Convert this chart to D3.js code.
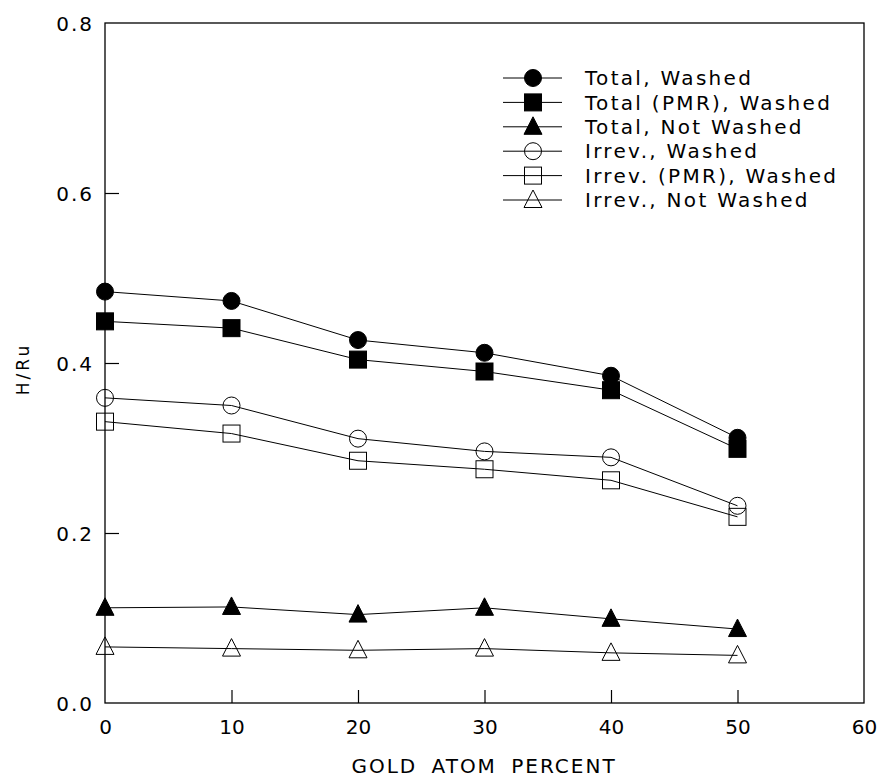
<!DOCTYPE html>
<html>
<head>
<meta charset="utf-8">
<script src="https://cdn.jsdelivr.net/npm/d3@7"></script>
<style>
  body { margin: 0; background: #fff; }
  text { font-family: "DejaVu Sans", sans-serif; fill: #000; }
</style>
</head>
<body>
<script>
// gold atom percent
const gold = [0, 10, 20, 30, 40, 50];

const totalWashed      = [0.484, 0.473, 0.427, 0.412, 0.385, 0.312];
const totalPmrWashed   = [0.449, 0.441, 0.404, 0.390, 0.368, 0.299];
const totalNotWashed   = [0.112, 0.113, 0.104, 0.112, 0.099, 0.087];
const irrevWashed      = [0.359, 0.350, 0.311, 0.296, 0.289, 0.232];
const irrevPmrWashed   = [0.331, 0.317, 0.285, 0.275, 0.262, 0.219];
const irrevNotWashed   = [0.066, 0.064, 0.062, 0.064, 0.059, 0.056];

const seriesNames = ["Total, Washed", "Total (PMR), Washed", "Total, Not Washed",
                     "Irrev., Washed", "Irrev. (PMR), Washed", "Irrev., Not Washed"];
const xTicks = [0, 10, 20, 30, 40, 50, 60];
const yTicks = [0.0, 0.2, 0.4, 0.6, 0.8];

const series = [
  {name: seriesNames[0], values: totalWashed,    shape: "circle",   filled: true},
  {name: seriesNames[1], values: totalPmrWashed, shape: "square",   filled: true},
  {name: seriesNames[2], values: totalNotWashed, shape: "triangle", filled: true},
  {name: seriesNames[3], values: irrevWashed,    shape: "circle",   filled: false},
  {name: seriesNames[4], values: irrevPmrWashed, shape: "square",   filled: false},
  {name: seriesNames[5], values: irrevNotWashed, shape: "triangle", filled: false}
];

const width = 881, height = 779;
const mLeft = 105, mRight = 864, mTop = 23, mBottom = 703;

const x = d3.scaleLinear().domain([0, 60]).range([mLeft, mRight]);
const y = d3.scaleLinear().domain([0, 0.8]).range([mBottom, mTop]);

const svg = d3.select("body").append("svg")
    .attr("width", width)
    .attr("height", height);

// marker drawing, open ones are hollow so the line shows through
function drawMarker(g, shape, filled, cx, cy) {
  const fill = filled ? "#000" : "none";
  if (shape == "circle") {
    g.append("circle").attr("cx", cx).attr("cy", cy).attr("r", 8.5)
      .attr("fill", fill).attr("stroke", "#000").attr("stroke-width", 1);
  } else if (shape == "square") {
    g.append("rect").attr("x", cx - 8.5).attr("y", cy - 8.5).attr("width", 17).attr("height", 17)
      .attr("fill", fill).attr("stroke", "#000").attr("stroke-width", 1);
  } else {
    g.append("path")
      .attr("d", `M${cx},${cy - 10}L${cx + 9},${cy + 7.5}L${cx - 9},${cy + 7.5}Z`)
      .attr("fill", fill).attr("stroke", "#000").attr("stroke-width", 1);
  }
}

// frame
svg.append("rect")
    .attr("x", mLeft).attr("y", mTop)
    .attr("width", mRight - mLeft).attr("height", mBottom - mTop)
    .attr("fill", "none").attr("stroke", "#000").attr("stroke-width", 1.3);

// axes with inward ticks
const ax = svg.append("g")
    .attr("transform", `translate(0,${mBottom})`)
    .call(d3.axisBottom(x).tickValues(xTicks).tickFormat(d3.format("d")).tickSize(-13).tickPadding(17));
const ay = svg.append("g")
    .attr("transform", `translate(${mLeft},0)`)
    .call(d3.axisLeft(y).tickValues(yTicks).tickFormat(d3.format(".1f")).tickSize(-14).tickPadding(11));

[ax, ay].forEach(a => {
  a.select(".domain").remove();
  a.selectAll(".tick line").attr("stroke", "#000").attr("stroke-width", 1.2);
  a.selectAll("text").attr("font-size", 20).attr("font-family", "DejaVu Sans").attr("fill", "#000");
});
ax.selectAll(".tick line").filter(d => d == 0 || d == 60).remove();
ay.selectAll(".tick line").filter(d => d == 0 || d == 0.8).remove();
ay.selectAll("text").attr("dy", "0.36em").attr("letter-spacing", 2);

// axis titles
svg.append("text")
    .attr("x", 484).attr("y", 773)
    .attr("text-anchor", "middle")
    .attr("font-size", 20)
    .attr("letter-spacing", 2)
    .attr("word-spacing", 6)
    .text("GOLD ATOM PERCENT");

svg.append("text")
    .attr("transform", "translate(29,369) rotate(-90)")
    .attr("text-anchor", "middle")
    .attr("font-size", 17)
    .attr("letter-spacing", 3)
    .text("H/Ru");

// lines and markers
const line = d3.line().x((d, i) => x(gold[i])).y(d => y(d));

series.forEach(s => {
  svg.append("path")
    .attr("d", line(s.values))
    .attr("fill", "none").attr("stroke", "#000").attr("stroke-width", 1);
});
series.forEach(s => {
  const g = svg.append("g");
  s.values.forEach((v, i) => drawMarker(g, s.shape, s.filled, x(gold[i]), y(v)));
});

// legend
const legend = svg.append("g");
series.forEach((s, i) => {
  const ly = 78 + i * 24.4;
  legend.append("line")
    .attr("x1", 503).attr("x2", 562).attr("y1", ly).attr("y2", ly)
    .attr("stroke", "#000").attr("stroke-width", 1);
  drawMarker(legend, s.shape, s.filled, 533, ly);
  legend.append("text")
    .attr("x", 585).attr("y", ly).attr("dy", "0.36em")
    .attr("font-size", 20)
    .attr("letter-spacing", 2.3)
    .text(s.name);
});
</script>
</body>
</html>
